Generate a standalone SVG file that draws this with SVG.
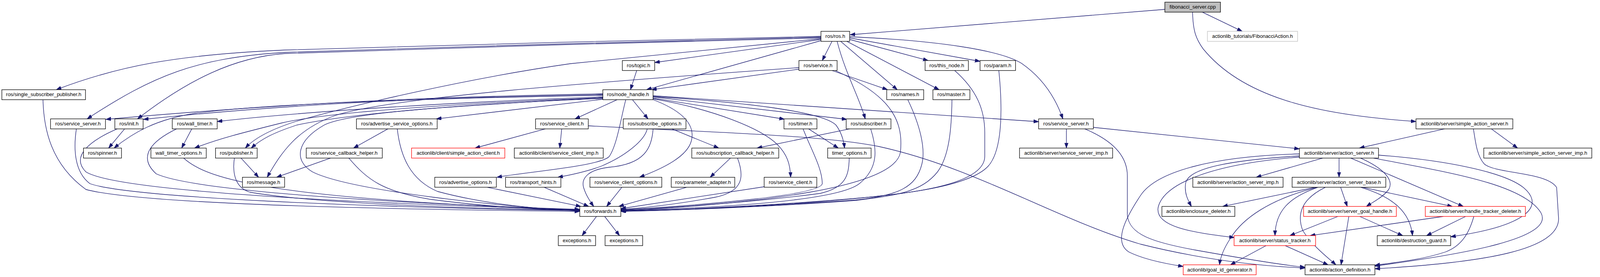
<svg xmlns="http://www.w3.org/2000/svg" width="4363" height="709" viewBox="0 0 4363 709">
<style>
.node rect{fill:#fff;stroke:#000;stroke-width:1.3}
.node.red rect{stroke:#f00}
.node.grey rect{stroke:#bfbfbf}
.node.root rect{fill:#bfbfbf}
.node text{font-family:"Liberation Sans",Arial,Helvetica,sans-serif;font-size:13px;text-anchor:middle;fill:#000}
#edges path{fill:none;stroke:#191970;stroke-width:1.3;marker-end:url(#a)}
</style>
<defs>
<marker id="a" markerUnits="userSpaceOnUse" markerWidth="14" markerHeight="10" refX="13" refY="4.5" orient="auto" viewBox="0 0 14 10"><path d="M0,0L13,4.5L0,9z" fill="#191970" stroke="#191970" stroke-width="1"/></marker>
</defs>
<rect width="4363" height="709" fill="#fff"/>
<g id="edges">
<path d="M2982,24 L2176,89"/>
<path d="M3078,31.1 L3180,80.2"/>
<path d="M3053,31.1 C3054,80 3062,100 3080,125 C3190,260 3400,295 3624.9,311"/>
<path d="M2101.6,93 C1800,99 1000,118 730,128 C450,140 300,170 144,229.6"/>
<path d="M2101.6,95 C1800,101 1000,124 730,134 C500,148 390,195 223,304.3"/>
<path d="M2101.6,97 C1800,103 1000,127 730,137 C600,146 480,205 352,304.3"/>
<path d="M2101.6,99 L1460,163 C1200,200 900,270 760,310 C690,332 650,355 628,379"/>
<path d="M2101.6,101 L1676,160"/>
<path d="M2101.6,104 L1655,229.6"/>
<path d="M2130,105.8 L2105,154.9"/>
<path d="M2143,105.8 C2165,190 2200,250 2215,304.3"/>
<path d="M2152,105.8 L2297,229.6"/>
<path d="M2168,105.8 L2404,229.6"/>
<path d="M2175.2,101 L2376,154.9"/>
<path d="M2175.2,97 L2508.9,157"/>
<path d="M2175.2,94 C2400,104 2560,128 2615,162 C2670,200 2702,250 2721,304.3"/>
<path d="M1630,180.5 L1614,229.6"/>
<path d="M2045.3,177 L1668,229.6"/>
<path d="M2130,180.5 L2272,229.6"/>
<path d="M2138,180.5 C2270,240 2315,300 2305,390 C2290,480 1950,520 1589.4,540"/>
<path d="M2444,180.5 C2500,230 2521,280 2521,340 L2521,400 C2521,480 2300,500 2100,515 C1900,530 1700,538 1589.4,540"/>
<path d="M2557,180.5 C2565,260 2570,380 2530,425 C2480,480 2300,500 2100,516 C1900,531 1700,539 1589.4,541"/>
<path d="M2324,255.2 C2355,320 2370,380 2360,420 C2345,480 2300,500 2190,512 C1950,530 1700,538 1589.4,540"/>
<path d="M2437,255.2 C2436,330 2430,400 2400,440 C2360,490 2300,500 2190,513 C1950,531 1700,539 1589.4,541"/>
<path d="M2229,329.9 C2245,380 2250,430 2200,470 C2150,510 1900,530 1589.4,539"/>
<path d="M2175,329.9 L1938,379"/>
<path d="M2070,329.9 L2146,379"/>
<path d="M2056,329.9 C2075,380 2105,430 2105,470 C2100,500 1800,525 1589.4,537"/>
<path d="M2174,404.6 C2173,450 2165,480 2100,495 C1950,515 1750,530 1589.4,538"/>
<path d="M1720,329.9 L1840,379"/>
<path d="M1657,329.9 C1650,360 1600,400 1540,425 C1500,440 1460,448 1428,453.7"/>
<path d="M1672,329.9 C1668,380 1650,420 1560,428 C1500,435 1488,460 1494,480 C1500,500 1510,515 1520,528.4"/>
<path d="M1619,255.2 L1659,304.3"/>
<path d="M1580,255.2 L1472,304.3"/>
<path d="M1671.8,251 L2008,305"/>
<path d="M1671.8,248 L2168,305.5"/>
<path d="M1671.8,245 L2658.9,311.5"/>
<path d="M1671.8,253 C1830,280 1950,330 1990,370 C2015,395 2023,420 2024,453.7"/>
<path d="M1671.8,247 C1950,265 2110,290 2140,320 C2155,340 2160,360 2162,379"/>
<path d="M1671.8,255 C1750,285 1780,320 1770,360 C1760,400 1700,430 1637,453.7"/>
<path d="M1602,255.2 C1590,300 1580,370 1560,400 C1540,425 1350,440 1272,453.7"/>
<path d="M1543.3,250 C1200,270 900,285 830,320 C760,360 750,410 800,440 C900,490 1300,530 1484.2,540"/>
<path d="M1543.3,240 C1200,246 800,258 271,305.5"/>
<path d="M1543.3,242 C1200,248 800,260 367,305.5"/>
<path d="M1543.3,244 C1200,250 700,263 500,290 C400,305 340,340 292,379"/>
<path d="M1543.3,248 C1200,260 800,283 556,311"/>
<path d="M1543.3,250 C1200,264 850,285 720,315 C620,340 560,355 498,379"/>
<path d="M1543.3,252 C1200,266 900,290 760,320 C700,340 670,355 643,379"/>
<path d="M1543.3,254 L1117,304.3"/>
<path d="M2045.3,173 C1500,212 1000,250 860,295 C760,330 720,390 684,453.7"/>
<path d="M491,329.9 L465,379"/>
<path d="M452,329.9 C390,360 350,400 400,445 C500,490 1000,520 1484.2,536"/>
<path d="M319,329.9 L278,379"/>
<path d="M300,329.9 C230,360 180,400 220,440 C300,490 900,520 1484.2,537"/>
<path d="M195.5,329.9 C188,380 190,440 230,470 C330,505 900,530 1484.2,539"/>
<path d="M110,255.2 C112,330 130,420 220,485 C350,520 900,535 1484.2,541"/>
<path d="M470,404.6 C530,460 700,510 1484.2,537"/>
<path d="M617,404.6 L662,453.7"/>
<path d="M600,404.6 C595,440 600,480 640,492 C800,520 1200,535 1484.2,538"/>
<path d="M846,404.6 L708,453.7"/>
<path d="M893,404.6 C940,460 980,490 1100,510 C1250,530 1400,537 1484.2,539"/>
<path d="M993,329.9 L905,379"/>
<path d="M1017,329.9 C1025,400 1050,460 1120,490 C1250,525 1400,537 1484.2,539"/>
<path d="M1396,329.9 L1216,379"/>
<path d="M1438,329.9 L1433,379"/>
<path d="M1506,322 C1800,338 2100,345 2250,375 C2500,430 2700,560 2920,625 C3100,670 3250,682 3340.9,686"/>
<path d="M2730,329.9 L2730,379"/>
<path d="M2799,326 L3326.5,381"/>
<path d="M2777,329.9 C2850,360 2886,400 2886,450 L2886,550 C2890,600 2950,620 3060,640 C3200,665 3280,678 3340.9,684"/>
<path d="M3326.5,394 C3100,400 2960,440 2920,500 C2880,560 2850,620 2890,645 C2930,665 2990,676 3029,682"/>
<path d="M3326.5,399 C3150,410 3040,430 3035,470 C3032,495 3040,510 3050,528.4"/>
<path d="M3326.5,402 C3100,420 2980,470 2965,530 C2955,580 3050,595 3160,608"/>
<path d="M3386,404.6 L3216,453.7"/>
<path d="M3428,404.6 L3428,453.7"/>
<path d="M3458,404.6 L3746,528.4"/>
<path d="M3483,404.6 C3540,430 3570,460 3555,485 C3540,505 3515,517 3498,528.4"/>
<path d="M3529,397 C3700,410 3850,440 3900,480 C3960,530 3900,580 3713.7,606"/>
<path d="M3516,404.6 C3700,440 3900,470 3945,545 C3980,610 3750,650 3519.7,681"/>
<path d="M3698,329.9 L3480,379"/>
<path d="M3818,329.9 L3885,379"/>
<path d="M3772,329.9 C3778,370 3782,400 3800,420 C3830,445 3960,440 3985,480 L3990,560 C3990,640 3800,672 3519.7,688"/>
<path d="M3367,479.3 L3130,528.4"/>
<path d="M3372,479.3 C3250,510 3180,560 3150,610 C3130,640 3124,660 3122,677.8"/>
<path d="M3374,479.3 C3300,505 3265,540 3264,603.1"/>
<path d="M3393,479.3 C3330,510 3320,550 3335,590 C3360,630 3400,660 3420,677.8"/>
<path d="M3432,479.3 L3449,528.4"/>
<path d="M3483,479.3 C3570,505 3610,545 3616,603.1"/>
<path d="M3488,479.3 L3718,528.4"/>
<path d="M3425,554 L3302,603.1"/>
<path d="M3453,554 L3433,677.8"/>
<path d="M3481,554 L3591,603.1"/>
<path d="M3695,554 L3354,603.1"/>
<path d="M3752,554 L3652,603.1"/>
<path d="M3773,554 C3760,600 3740,630 3700,645 C3640,665 3570,672 3519.7,679"/>
<path d="M3241,628.7 L3150,677.8"/>
<path d="M3290,628.7 L3400,677.8"/>
<path d="M1527,554 L1490,603.1"/>
<path d="M1548,554 L1586,603.1"/>
<path d="M1870,404.6 L1818,453.7"/>
<path d="M1888,404.6 C1905,450 1905,490 1830,505 C1720,525 1650,532 1589.4,536"/>
<path d="M1758,479.3 L1584,528.4"/>
<path d="M1592,479.3 L1553,528.4"/>
<path d="M1956.3,478 L1589.4,534"/>
<path d="M1247,479.3 L1487,528.4"/>
<path d="M1393,479.3 L1507,528.4"/>
</g>
<g id="n0" class="node root"><rect x="2982" y="5.5" width="142.4" height="25.6"/><text x="3053.2" y="22.3">fibonacci_server.cpp</text></g>
<g id="n1" class="node"><rect x="2101.6" y="80.2" width="73.6" height="25.6"/><text x="2138.4" y="97">ros/ros.h</text></g>
<g id="n2" class="node grey"><rect x="3091" y="80.2" width="230.8" height="25.6"/><text x="3206.4" y="97">actionlib_tutorials/FibonacciAction.h</text></g>
<g id="n3" class="node"><rect x="1593.2" y="154.9" width="82.8" height="25.6"/><text x="1634.6" y="171.7">ros/topic.h</text></g>
<g id="n4" class="node"><rect x="2045.3" y="154.9" width="97.7" height="25.6"/><text x="2094.2" y="171.7">ros/service.h</text></g>
<g id="n5" class="node"><rect x="2368.3" y="154.9" width="110.8" height="25.6"/><text x="2423.7" y="171.7">ros/this_node.h</text></g>
<g id="n6" class="node"><rect x="2508.9" y="154.9" width="90.8" height="25.6"/><text x="2554.3" y="171.7">ros/param.h</text></g>
<g id="n7" class="node"><rect x="4.7" y="229.6" width="214.1" height="25.6"/><text x="111.8" y="246.4">ros/single_subscriber_publisher.h</text></g>
<g id="n8" class="node"><rect x="1543.3" y="229.6" width="128.5" height="25.6"/><text x="1607.6" y="246.4">ros/node_handle.h</text></g>
<g id="n9" class="node"><rect x="2270" y="229.6" width="94.6" height="25.6"/><text x="2317.3" y="246.4">ros/names.h</text></g>
<g id="n10" class="node"><rect x="2388.3" y="229.6" width="94.6" height="25.6"/><text x="2435.6" y="246.4">ros/master.h</text></g>
<g id="n11" class="node"><rect x="129.4" y="304.3" width="140.6" height="25.6"/><text x="199.7" y="321.1">ros/service_server.h</text></g>
<g id="n12" class="node"><rect x="294" y="304.3" width="72.4" height="25.6"/><text x="330.2" y="321.1">ros/init.h</text></g>
<g id="n13" class="node"><rect x="441" y="304.3" width="115" height="25.6"/><text x="498.5" y="321.1">ros/wall_timer.h</text></g>
<g id="n14" class="node"><rect x="912.5" y="304.3" width="206.7" height="25.6"/><text x="1015.9" y="321.1">ros/advertise_service_options.h</text></g>
<g id="n15" class="node"><rect x="1371" y="304.3" width="135" height="25.6"/><text x="1438.5" y="321.1">ros/service_client.h</text></g>
<g id="n16" class="node"><rect x="1595.5" y="304.3" width="160.6" height="25.6"/><text x="1675.8" y="321.1">ros/subscribe_options.h</text></g>
<g id="n17" class="node"><rect x="2007" y="304.3" width="84.4" height="25.6"/><text x="2049.2" y="321.1">ros/timer.h</text></g>
<g id="n18" class="node"><rect x="2166.3" y="304.3" width="114.5" height="25.6"/><text x="2223.6" y="321.1">ros/subscriber.h</text></g>
<g id="n19" class="node"><rect x="2658.9" y="304.3" width="140.1" height="25.6"/><text x="2729" y="321.1">ros/service_server.h</text></g>
<g id="n20" class="node"><rect x="3624.9" y="304.3" width="247.9" height="25.6"/><text x="3748.9" y="321.1">actionlib/server/simple_action_server.h</text></g>
<g id="n21" class="node"><rect x="213.7" y="379" width="97.3" height="25.6"/><text x="262.4" y="395.8">ros/spinner.h</text></g>
<g id="n22" class="node"><rect x="386.4" y="379" width="141.6" height="25.6"/><text x="457.2" y="395.8">wall_timer_options.h</text></g>
<g id="n23" class="node"><rect x="551.7" y="379" width="106.7" height="25.6"/><text x="605.1" y="395.8">ros/publisher.h</text></g>
<g id="n24" class="node"><rect x="784" y="379" width="194.6" height="25.6"/><text x="881.3" y="395.8">ros/service_callback_helper.h</text></g>
<g id="n25" class="node red"><rect x="1053.6" y="379" width="238.8" height="25.6"/><text x="1173" y="395.8">actionlib/client/simple_action_client.h</text></g>
<g id="n26" class="node"><rect x="1316.6" y="379" width="227.7" height="25.6"/><text x="1430.5" y="395.8">actionlib/client/service_client_imp.h</text></g>
<g id="n27" class="node"><rect x="1771" y="379" width="222.6" height="25.6"/><text x="1882.3" y="395.8">ros/subscription_callback_helper.h</text></g>
<g id="n28" class="node"><rect x="2118.8" y="379" width="111.2" height="25.6"/><text x="2174.4" y="395.8">timer_options.h</text></g>
<g id="n29" class="node"><rect x="2610" y="379" width="238.4" height="25.6"/><text x="2729.2" y="395.8">actionlib/server/service_server_imp.h</text></g>
<g id="n30" class="node"><rect x="3326.5" y="379" width="202.5" height="25.6"/><text x="3427.8" y="395.8">actionlib/server/action_server.h</text></g>
<g id="n31" class="node"><rect x="3798.5" y="379" width="276.5" height="25.6"/><text x="3936.8" y="395.8">actionlib/server/simple_action_server_imp.h</text></g>
<g id="n32" class="node"><rect x="620.6" y="453.7" width="108" height="25.6"/><text x="674.6" y="470.5">ros/message.h</text></g>
<g id="n33" class="node"><rect x="1113" y="453.7" width="157.6" height="25.6"/><text x="1191.8" y="470.5">ros/advertise_options.h</text></g>
<g id="n34" class="node"><rect x="1294.3" y="453.7" width="141.5" height="25.6"/><text x="1365" y="470.5">ros/transport_hints.h</text></g>
<g id="n35" class="node"><rect x="1510.3" y="453.7" width="183.9" height="25.6"/><text x="1602.3" y="470.5">ros/service_client_options.h</text></g>
<g id="n36" class="node"><rect x="1718.4" y="453.7" width="162.6" height="25.6"/><text x="1799.7" y="470.5">ros/parameter_adapter.h</text></g>
<g id="n37" class="node"><rect x="1956.3" y="453.7" width="134.7" height="25.6"/><text x="2023.7" y="470.5">ros/service_client.h</text></g>
<g id="n38" class="node"><rect x="3053.6" y="453.7" width="231" height="25.6"/><text x="3169.1" y="470.5">actionlib/server/action_server_imp.h</text></g>
<g id="n39" class="node"><rect x="3307.8" y="453.7" width="239.8" height="25.6"/><text x="3427.7" y="470.5">actionlib/server/action_server_base.h</text></g>
<g id="n40" class="node"><rect x="1484.2" y="528.4" width="105.2" height="25.6"/><text x="1536.8" y="545.2">ros/forwards.h</text></g>
<g id="n41" class="node"><rect x="2974.5" y="528.4" width="186.7" height="25.6"/><text x="3067.9" y="545.2">actionlib/enclosure_deleter.h</text></g>
<g id="n42" class="node red"><rect x="3337.2" y="528.4" width="237.4" height="25.6"/><text x="3455.9" y="545.2">actionlib/server/server_goal_handle.h</text></g>
<g id="n43" class="node red"><rect x="3648.7" y="528.4" width="256.3" height="25.6"/><text x="3776.9" y="545.2">actionlib/server/handle_tracker_deleter.h</text></g>
<g id="n44" class="node"><rect x="1429.3" y="603.1" width="95.4" height="25.6"/><text x="1477" y="619.9">exceptions.h</text></g>
<g id="n45" class="node"><rect x="1549" y="603.1" width="96.3" height="25.6"/><text x="1597.2" y="619.9">exceptions.h</text></g>
<g id="n46" class="node red"><rect x="3159.3" y="603.1" width="208.6" height="25.6"/><text x="3263.6" y="619.9">actionlib/server/status_tracker.h</text></g>
<g id="n47" class="node"><rect x="3525.7" y="603.1" width="188" height="25.6"/><text x="3619.7" y="619.9">actionlib/destruction_guard.h</text></g>
<g id="n48" class="node red"><rect x="3029" y="677.8" width="186.7" height="25.6"/><text x="3122.4" y="694.6">actionlib/goal_id_generator.h</text></g>
<g id="n49" class="node"><rect x="3340.9" y="677.8" width="178.8" height="25.6"/><text x="3430.3" y="694.6">actionlib/action_definition.h</text></g>
</svg>
